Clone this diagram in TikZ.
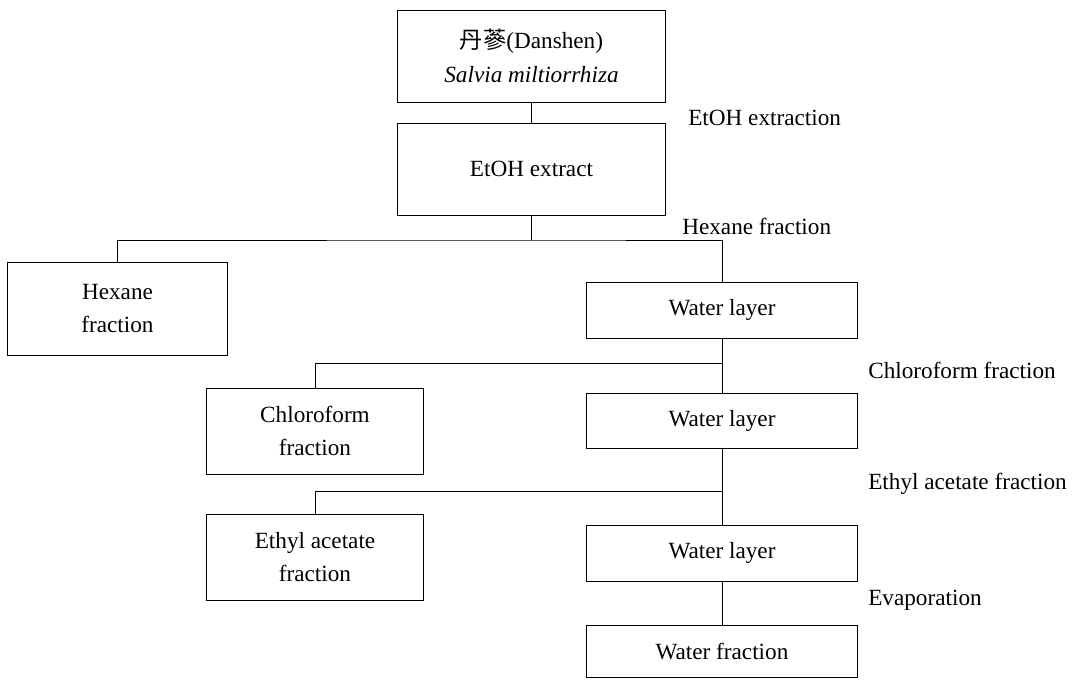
\documentclass[tikz,border=0pt]{standalone}
\usepackage{fontspec}
\setmainfont{Liberation Serif}
\newfontfamily\cjk{Noto Sans CJK TC}
\tikzset{
	stepbox/.style={draw,line width=0.7pt,align=center,inner sep=0pt,
		font=\fontsize{16.5}{24}\selectfont},
	steplabel/.style={anchor=west,inner sep=0pt,font=\fontsize{16.5}{24}\selectfont},
	link/.style={line width=0.7pt}
}
\begin{document}
\begin{tikzpicture}[x=0.025cm,y=-0.025cm]
	\useasboundingbox (0,0) rectangle (1075,679);
	% boxes
	\node[stepbox,minimum width=6.675cm,minimum height=2.3cm] (herb) at (531.5,56) {{\cjk 丹蔘}(Danshen)\\\textit{Salvia miltiorrhiza}};
	\node[stepbox,minimum width=6.675cm,minimum height=2.3cm] (etoh) at (531.5,169) {EtOH extract};
	\node[stepbox,minimum width=5.475cm,minimum height=2.325cm] (hex) at (117.5,308.5) {Hexane\\fraction};
	\node[stepbox,minimum width=6.75cm,minimum height=1.4cm] (wla) at (722,310) {Water layer};
	\node[stepbox,minimum width=5.4cm,minimum height=2.15cm] (chl) at (315,431) {Chloroform\\fraction};
	\node[stepbox,minimum width=6.75cm,minimum height=1.375cm] (wlb) at (722,420.5) {Water layer};
	\node[stepbox,minimum width=5.4cm,minimum height=2.15cm] (eth) at (315,557) {Ethyl acetate\\fraction};
	\node[stepbox,minimum width=6.75cm,minimum height=1.4cm] (wlc) at (722,553) {Water layer};
	\node[stepbox,minimum width=6.75cm,minimum height=1.3cm] (wf) at (722,651) {Water fraction};
	% labels
	\node[steplabel] (lbetoh) at (688,118) {EtOH extraction};
	\node[steplabel] (lbhex) at (682,226) {Hexane fraction};
	\node[steplabel] (lbchl) at (868,370) {Chloroform fraction};
	\node[steplabel] (lbeth) at (868,484) {Ethyl acetate fraction};
	\node[steplabel] (lbevap) at (868,600) {Evaporation};
	% branch points
	\coordinate (sa) at (531.5,240);
	\coordinate (sb) at (722,363);
	\coordinate (sc) at (722,491);
	% connectors
	\draw[link] (herb.south) -- (etoh.north);
	\draw[link] (etoh.south) -- (sa);
	\draw[link] (hex.north) |- (sa) -| (wla.north);
	\draw[link] (wla.south) -- (wlb.north);
	\draw[link] (chl.north) |- (sb);
	\draw[link] (wlb.south) -- (wlc.north);
	\draw[link] (eth.north) |- (sc);
	\draw[link] (wlc.south) -- (wf.north);
\end{tikzpicture}
\end{document}
